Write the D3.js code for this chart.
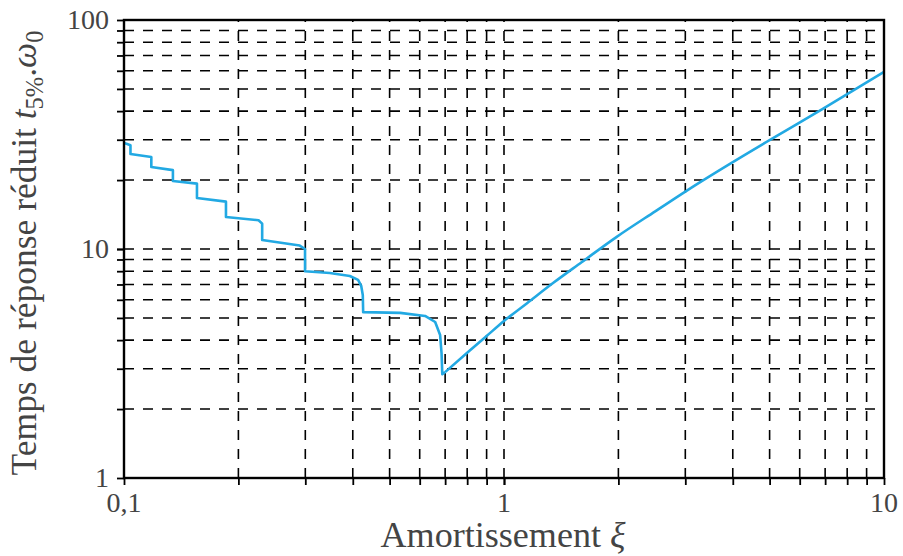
<!DOCTYPE html>
<html><head><meta charset="utf-8">
<script src="https://cdn.jsdelivr.net/npm/d3@7"></script>
<style>body{margin:0;background:#fff} text{font-family:"Liberation Serif","DejaVu Serif",serif;}</style></head>
<body>
<svg id="c" width="903" height="556"></svg>
<script>
// ---- data ----
const xDomain = [0.1, 10];
const yDomain = [1, 100];
const xTickLabels = ["0,1", "1", "10"];
const xTickValues = [0.1, 1, 10];
const yTickLabels = ["1", "10", "100"];
const yTickValues = [1, 10, 100];
const xMinorGrid = [0.2,0.3,0.4,0.5,0.6,0.7,0.8,0.9,1,2,3,4,5,6,7,8,9];
const yMinorGrid = [2,3,4,5,6,7,8,9,10,20,30,40,50,60,70,80,90];
const dampingXi = [0.1,0.1015,0.104,0.104,0.118,0.118,0.1345,0.1345,0.1556,0.1556,0.1855,0.1855,0.226,0.231,0.231,0.29,0.2995,0.2995,0.348,0.393,0.413,0.421,0.425,0.426,0.533,0.62,0.659,0.679,0.685,0.688,
                   0.70,0.8,0.9,1.0,1.15,1.346,1.6,1.98,2.5,3.22,5.0,6.9,10];
const responseTime = [29.0,28.8,28.4,26.0,25.2,22.8,22.1,19.8,19.3,16.7,16.1,13.8,13.35,12.9,10.95,10.35,10.0,8.0,7.86,7.62,7.33,6.9,6.3,5.3,5.26,5.10,4.80,4.21,3.5,2.84,
                   2.90,3.52,4.17,4.85,5.8,7.1,8.75,11.3,14.6,19.2,29.9,40.9,59.3];
const xTitle = "Amortissement ";
const yTitle = "Temps de réponse réduit ";

// ---- layout ----
const L = 124, R = 884, T = 20, B = 478;
const svg = d3.select("#c");
const x = d3.scaleLog().domain(xDomain).range([L, R]);
const y = d3.scaleLog().domain(yDomain).range([B, T]);
const textCol = "#444";

// grid
const grid = svg.append("g").attr("stroke", "#000").attr("stroke-width", 1.6)
  .attr("stroke-dasharray", "10,9").attr("fill", "none");
grid.selectAll("line.v").data(xMinorGrid).join("line").attr("class","v")
  .attr("x1", d => x(d)).attr("x2", d => x(d)).attr("y1", B).attr("y2", T);
grid.selectAll("line.h").data(yMinorGrid).join("line").attr("class","h")
  .attr("x1", L).attr("x2", R).attr("y1", d => y(d)).attr("y2", d => y(d));

// axes ticks (outward)
const allX = xTickValues.concat(xMinorGrid);
const allY = yTickValues.concat(yMinorGrid);
const xAxis = d3.axisBottom(x).tickValues(allX).tickSize(7).tickFormat("");
const yAxis = d3.axisLeft(y).tickValues(allY).tickSize(7).tickFormat("");
const gx = svg.append("g").attr("transform", `translate(0,${B})`).call(xAxis);
const gy = svg.append("g").attr("transform", `translate(${L},0)`).call(yAxis);
[gx, gy].forEach(g => { g.select(".domain").remove(); g.selectAll("line").attr("stroke","#000").attr("stroke-width",1.8); });

// curve
const pts = dampingXi.map((d, i) => [d, responseTime[i]]);
const split = dampingXi.indexOf(0.688);
const stair = pts.slice(0, split + 1);
const rise = pts.slice(split + 1);
const lineLin = d3.line().x(d => x(d[0])).y(d => y(d[1])).curve(d3.curveLinear);
const lineSm = d3.line().x(d => x(d[0])).y(d => y(d[1])).curve(d3.curveMonotoneX);
const col = "#22a9e3";
svg.append("path").attr("d", lineLin(stair.concat([rise[0]]))).attr("fill","none").attr("stroke",col).attr("stroke-width",2.6).attr("stroke-linejoin","round");
svg.append("path").attr("d", lineSm(rise)).attr("fill","none").attr("stroke",col).attr("stroke-width",2.6).attr("stroke-linejoin","round");

// frame
svg.append("rect").attr("x", L).attr("y", T).attr("width", R - L).attr("height", B - T)
  .attr("fill","none").attr("stroke","#000").attr("stroke-width",2.4);

// tick labels
svg.selectAll("text.xl").data(xTickValues).join("text").attr("class","xl")
  .attr("x", d => x(d)).attr("y", 512).attr("text-anchor","middle")
  .attr("font-size", 28).attr("fill", textCol)
  .text((d, i) => xTickLabels[i]);
svg.selectAll("text.yl").data(yTickValues).join("text").attr("class","yl")
  .attr("x", 109).attr("y", d => y(d) + 9).attr("text-anchor","end")
  .attr("font-size", 28).attr("fill", textCol)
  .text((d, i) => yTickLabels[i]);

// x title
const xt = svg.append("text").attr("x", 503).attr("y", 547).attr("text-anchor","middle")
  .attr("font-size", 29).attr("fill", textCol);
xt.append("tspan").text(xTitle);
xt.append("tspan").attr("font-style","italic").text("ξ");

// y title
const yt = svg.append("text").attr("transform", "translate(36,253) rotate(-90)").attr("text-anchor","middle")
  .attr("font-size", 29).attr("fill", textCol);
yt.append("tspan").text(yTitle);
yt.append("tspan").attr("font-style","italic").text("t");
yt.append("tspan").attr("font-size", 20).attr("dy", 6).text("5%");
yt.append("tspan").attr("dy", -6).text(".");
yt.append("tspan").attr("font-style","italic").text("ω");
yt.append("tspan").attr("font-size", 20).attr("dy", 6).text("0");

// fit title widths to the reference
function fit(node, target) {
  const w = node.getComputedTextLength();
  const fs = parseFloat(d3.select(node).attr("font-size"));
  const k = target / w;
  d3.select(node).attr("font-size", fs * k);
  d3.select(node).selectAll("tspan").each(function() {
    const s = d3.select(this);
    if (s.attr("font-size")) s.attr("font-size", parseFloat(s.attr("font-size")) * k);
    if (s.attr("dy")) s.attr("dy", parseFloat(s.attr("dy")) * k);
  });
}
fit(xt.node(), 245);
fit(yt.node(), 445);
</script>
</body></html>
